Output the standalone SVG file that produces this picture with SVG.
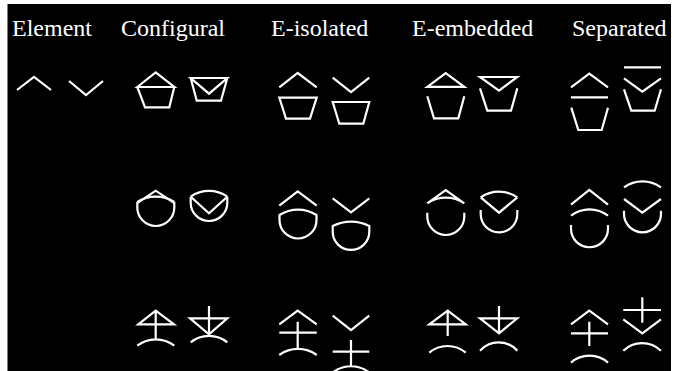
<svg xmlns="http://www.w3.org/2000/svg" width="674" height="371" viewBox="0 0 674 371">
<style>
.s{fill:none;stroke:#fff;stroke-width:2.2;stroke-linejoin:miter;stroke-linecap:butt}
.t{font-family:"Liberation Serif","Times New Roman",serif;font-size:24px;fill:#fff}
</style>
<rect x="0" y="0" width="674" height="371" fill="#fff"/>
<rect x="7.5" y="4" width="663.5" height="367" fill="#000"/>
<g id="headers">
<text class="t" x="12" y="36">Element</text>
<text class="t" x="121" y="36">Configural</text>
<text class="t" x="271" y="36">E-isolated</text>
<text class="t" x="412" y="36">E-embedded</text>
<text class="t" x="572" y="36">Separated</text>
</g>
<g id="row1">
<g id="el-up"><path class="s" d="M17,90 L34,77 L51,90"/></g>
<g id="el-down"><path class="s" d="M69,81 L86,95 L103,81"/></g>
<g id="cf1-up"><path class="s" d="M137.3,87 L155.7,72.3 L174.3,87 Z M137.3,87 L145,107.3 L169.3,107.3 L174.3,87"/></g>
<g id="cf1-down"><path class="s" d="M190.7,78 L227.3,78 L209,93.7 Z M190.7,78 L196.7,100.7 L221,100.7 L227.3,78"/></g>
<g id="ei1-up"><path class="s" d="M279.3,87.3 L297.7,73 L316.7,87.3 M279.3,97.7 L316.7,97.7 L310,118.7 L286,118.7 Z"/></g>
<g id="ei1-down"><path class="s" d="M332.7,77.7 L351,92 L369.3,77.7 M332.7,102 L369.3,102 L363.3,123.7 L339.3,123.7 Z"/></g>
<g id="ee1-up"><path class="s" d="M427.3,86.8 L445.7,73 L464.3,86.8 Z M427.3,96.3 L434,118.3 L458.3,118.3 L464.3,96.3"/></g>
<g id="ee1-down"><path class="s" d="M480,77 L517.3,77 L499,90.7 Z M480,88.3 L487.3,110.7 L511,110.7 L517.3,88.3"/></g>
<g id="sp1-up"><path class="s" d="M571,87.3 L589.3,73.7 L608,87.3 M571,97.3 L608,97.3 M571.3,107.7 L578.3,130 L601.7,130 L608,107.7"/></g>
<g id="sp1-down"><path class="s" d="M624,67.3 L661,67.3 M624,78.3 L642.3,91.7 L661,78.3 M624,89.3 L631.3,110.7 L654.7,110.7 L661,89.3"/></g>
</g>
<g id="row2">
<g id="cf2-up"><path class="s" d="M137.3,203 L155.7,190.7 L174.3,203 M137.3,202 A35,35 0 0 1 174.3,202 M137.3,202 L137.3,207.5 A18.5,18.5 0 0 0 174.3,207.5 L174.3,202"/></g>
<g id="cf2-down"><path class="s" d="M190.7,196.7 A32,32 0 0 1 227.3,196.7 M190.7,196.7 L209,213.3 L227.3,196.7 M190.7,196.7 L190.7,202.7 A18.3,18.3 0 0 0 227.3,202.7 L227.3,196.7"/></g>
<g id="ei2-up"><path class="s" d="M279.3,205.7 L297.7,191.3 L316.7,205.7 M279.5,215 A34,34 0 0 1 316.5,215 L316.5,220 A18.5,18.5 0 0 1 279.5,220 Z"/></g>
<g id="ei2-down"><path class="s" d="M332.7,198.3 L351,212.3 L369.3,198.3 M332.7,226 A40,40 0 0 1 369.3,226 L369.3,231.7 A18.3,18.3 0 0 1 332.7,231.7 Z"/></g>
<g id="ee2-up"><path class="s" d="M427.3,203.3 L445.7,190 L464.3,203.3 M427.3,203.3 A33,33 0 0 1 464.3,203.3 M427.3,212.7 L427.3,216.5 A18.5,18.5 0 0 0 464.3,216.5 L464.3,212.7"/></g>
<g id="ee2-down"><path class="s" d="M480.7,197.3 A32,32 0 0 1 517.3,197.3 M480.7,197.3 L499,212.7 L517.3,197.3 M480.7,210 L480.7,214 A18.3,18.3 0 0 0 517.3,214 L517.3,210"/></g>
<g id="sp2-up"><path class="s" d="M571,204.7 L589.3,190 L608,204.7 M571,215.7 A30,30 0 0 1 608,215.7 M571,225 L571,228.8 A18.5,18.5 0 0 0 608,228.8 L608,225"/></g>
<g id="sp2-down"><path class="s" d="M624,187.3 A32,32 0 0 1 661,187.3 M624,199 L642.3,212.7 L661,199 M624,210.7 L624,213.8 A18.5,18.5 0 0 0 661,213.8 L661,210.7"/></g>
</g>
<g id="row3">
<g id="cf3-up"><path class="s" d="M138.3,324.3 L155.7,310.7 L174,324.3 Z M155.7,310.7 L155.7,340 M137.3,345.7 A30,30 0 0 1 174.3,345.7"/></g>
<g id="cf3-down"><path class="s" d="M209,306 L209,334.3 M190,318.3 L227.3,318.3 L209,334.3 Z M190.7,342.3 A29,29 0 0 1 227.3,342.3"/></g>
<g id="ei3-up"><path class="s" d="M279.3,324.3 L297.7,310.7 L316.7,324.3 M279.3,332.7 L316.7,332.7 M297.7,321.7 L297.7,349 M279.3,355 A32,32 0 0 1 316.7,355"/></g>
<g id="ei3-down"><path class="s" d="M332.7,315.7 L351,330 L369.3,315.7 M332.7,351.7 L369.3,351.7 M351,340 L351,366 M332.7,372.5 A30,30 0 0 1 369.3,372.5"/></g>
<g id="ee3-up"><path class="s" d="M429.3,324.3 L447.7,310.7 L465.7,324.3 Z M447.7,310.7 L447.7,336 M429.3,352.7 A28,28 0 0 1 465.7,352.7"/></g>
<g id="ee3-down"><path class="s" d="M499,306 L499,333.3 M480,318.3 L517.3,318.3 L499,333.3 Z M480,350.7 A25,25 0 0 1 517.3,350.7"/></g>
<g id="sp3-up"><path class="s" d="M571,324.3 L589.3,310.7 L608,324.3 M571,333.3 L608,333.3 M589.3,321.7 L589.3,346 M571,362.7 A28,28 0 0 1 608,362.7"/></g>
<g id="sp3-down"><path class="s" d="M642.3,297.3 L642.3,322.7 M623.3,310 L661,310 M623.3,319.3 L642.3,333.3 L661,319.3 M623.3,350.7 A27,27 0 0 1 661,350.7"/></g>
</g>
</svg>
